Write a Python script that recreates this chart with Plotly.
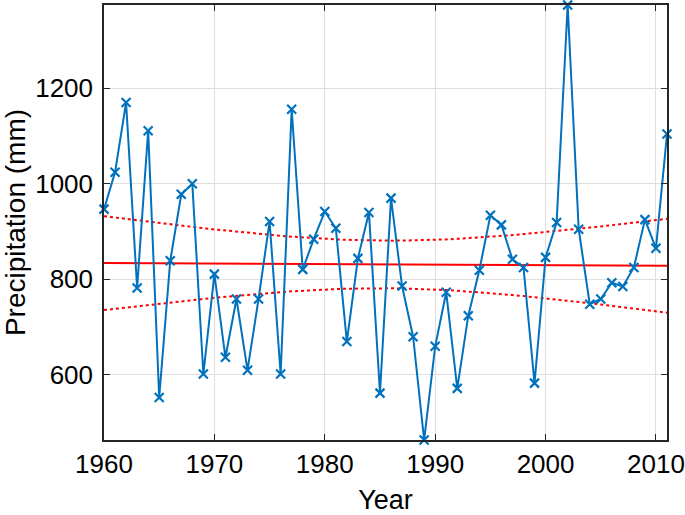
import numpy as np
import plotly.graph_objects as go

years = list(range(1960, 2012))
precip = [947, 1024, 1170, 782, 1111, 553, 839, 978, 1000, 602,
          811, 637, 759, 610, 759, 921, 602, 1156, 821, 884,
          942, 907, 670, 844, 940, 562, 970, 786, 680, 464,
          660, 773, 572, 724, 819, 934, 914, 842, 825, 583,
          846, 919, 1374, 905, 748, 759, 793, 785, 825, 925,
          865, 1104]

x_ticks = [1960, 1970, 1980, 1990, 2000, 2010]
y_ticks = [600, 800, 1000, 1200]

# linear fit and 95% confidence band of the fitted mean
x = np.array(years, dtype=float)
y = np.array(precip, dtype=float)
n = len(x)
b, a = np.polyfit(x, y, 1)
fit = a + b * x
resid = y - fit
s = np.sqrt(np.sum(resid ** 2) / (n - 2))
sxx = np.sum((x - x.mean()) ** 2)
t_val = 2.0086
half = t_val * s * np.sqrt(1.0 / n + (x - x.mean()) ** 2 / sxx)
upper = fit + half
lower = fit - half

blue = "#0072BD"
red = "#FF0000"
axis_col = "#262626"
grid_col = "#DFDFDF"
font_family = "Liberation Sans, Arial, sans-serif"

fig = go.Figure()
fig.add_trace(go.Scatter(x=years, y=fit.tolist(), mode="lines",
                         line=dict(color=red, width=2), showlegend=False))
fig.add_trace(go.Scatter(x=years, y=upper.tolist(), mode="lines",
                         line=dict(color=red, width=2, dash="dot"), showlegend=False))
fig.add_trace(go.Scatter(x=years, y=lower.tolist(), mode="lines",
                         line=dict(color=red, width=2, dash="dot"), showlegend=False))
fig.add_trace(go.Scatter(x=years, y=precip, mode="lines+markers",
                         line=dict(color=blue, width=2),
                         marker=dict(symbol="x-thin", size=9,
                                     line=dict(color=blue, width=2.2)),
                         cliponaxis=False, showlegend=False))

common = dict(showgrid=True, gridcolor=grid_col, gridwidth=1,
              showline=True, linecolor=axis_col, linewidth=1.5, mirror="ticks",
              ticks="inside", ticklen=6, tickwidth=1.3, tickcolor=axis_col,
              zeroline=False, automargin=False,
              tickfont=dict(family=font_family, size=26, color="#000000"))

fig.update_xaxes(range=[1960, 2011], tickvals=x_ticks,
                 title=dict(text="Year", font=dict(family=font_family, size=27, color="#000000"),
                            standoff=14),
                 **common)
fig.update_yaxes(range=[min(precip), max(precip)], tickvals=y_ticks,
                 ticklabelstandoff=4,
                 title=dict(text="Precipitation (mm)",
                            font=dict(family=font_family, size=28, color="#000000"),
                            standoff=6),
                 **common)

fig.update_layout(width=685, height=515,
                  margin=dict(l=104, r=18, t=5, b=75),
                  plot_bgcolor="#FFFFFF", paper_bgcolor="#FFFFFF",
                  font=dict(family=font_family, size=26, color="#000000"))

fig.write_html("out.html", config={"displayModeBar": False},
               post_script="document.body.style.margin='0';document.body.style.overflow='hidden';")
